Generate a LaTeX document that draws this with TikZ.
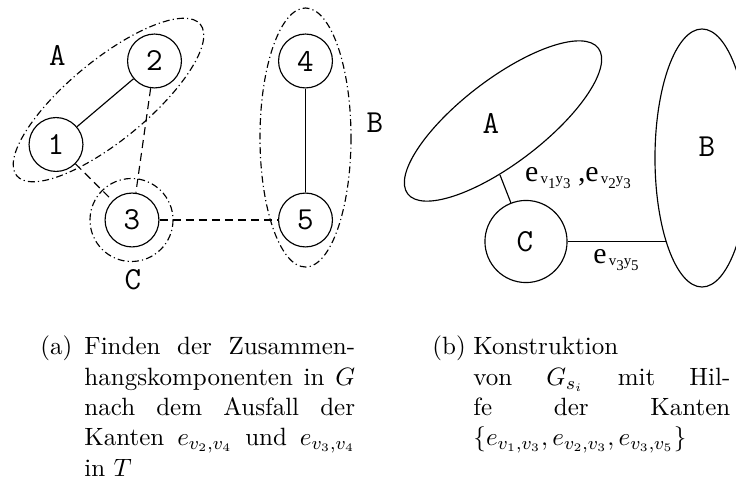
\documentclass[tikz,border=0pt]{standalone}
\usepackage{fontspec}
\newfontfamily\timesfnt{Liberation Serif}
\usetikzlibrary{shapes.geometric}
\newcommand\elab[2]{e\hspace{1pt}{\fontsize{6.5}{7}\selectfont\raisebox{-0.5pt}{v}\raisebox{-2.8pt}{#1}\raisebox{-0.5pt}{y}\raisebox{-2.8pt}{#2}}}
\begin{document}
\begin{tikzpicture}[x=0.436pt,y=-0.436pt,
  vert/.style={circle,draw,line width=0.5pt,minimum size=23.5pt,inner sep=0pt,font=\ttfamily\fontsize{14}{16}\selectfont},
  grp/.style={draw,line width=0.5pt,dash pattern=on 3pt off 1.4pt on 0.5pt off 1.4pt},
  dedge/.style={draw,line width=0.5pt,dash pattern=on 3.5pt off 2.2pt},
  sedge/.style={draw,line width=0.5pt},
  blob/.style={draw,line width=0.5pt,ellipse,inner sep=0pt},
  lbl/.style={inner sep=0pt,font=\ttfamily\fontsize{14}{16}\selectfont},
  elbl/.style={inner sep=0pt,anchor=base,font=\timesfnt\fontsize{13}{15}\selectfont},
  captxt/.style={inner sep=0pt,anchor=base west,font=\fontsize{10.9}{13.2}\selectfont}]
\useasboundingbox (0,0) rectangle (736,485);
\clip (0,0) rectangle (736,485);
% ---------- left diagram ----------
\node[vert] (n1) at (56,144.5) {1};
\node[vert] (n2) at (154.5,61) {2};
\node[vert] (n3) at (132,220) {3};
\node[vert] (n4) at (305.5,61) {4};
\node[vert] (n5) at (305.5,220) {5};
\draw[sedge] (n1) -- (n2);
\draw[sedge] (n4) -- (n5);
\draw[dedge] (n1) -- (n3);
\draw[dedge] (n2) -- (n3);
\draw[dedge] (n3) -- (n5);
\draw[grp,rotate around={39.5:(108.5,100)}] (108.5,100) ellipse [x radius=119, y radius=40];
\draw[grp] (131.5,220) circle [radius=41.5];
\draw[grp] (305.5,137.5) ellipse [x radius=45.5, y radius=129.5];
\node[lbl] (la) at (57.5,55) {A};
\node[lbl] (lb) at (375,123) {B};
\node[lbl] (lc) at (133,280) {C};
% ---------- right diagram ----------
\node[blob,rotate=37.4,minimum width=104.6pt,minimum height=36.6pt] (A) at (503,121) {};
\node[blob,minimum width=41pt,minimum height=112.5pt] (B) at (702,158) {};
\node[blob,circle,minimum size=35.8pt] (C) at (526,241.5) {};
\node[lbl] (ta) at (491,123) {A};
\node[lbl] (tb) at (707,147) {B};
\node[lbl] (tc) at (525,242) {C};
\coordinate (ae) at (500,175);
\coordinate (be) at (665.5,241.5);
\draw[sedge] (C) -- (ae);
\draw[sedge] (C) -- (be);
\node[elbl] (e1) at (578,182) {\elab{1}{3}\ ,\elab{2}{3}};
\node[elbl] (e2) at (616,264) {\elab{3}{5}};
% ---------- captions ----------
\node[captxt] (capa) at (40,355) {(a)};
\node[captxt] (capatext) at (84,355) {\parbox[t]{118pt}{Finden der Zusammen-\linebreak hangskomponenten in $G$\linebreak nach dem Ausfall der\linebreak Kanten $e_{v_2,v_4}$ und $e_{v_3,v_4}$\linebreak in $T$}};
\node[captxt] (capb) at (432,355) {(b)};
\node[captxt] (capbtext) at (473,355) {\parbox[t]{112pt}{Konstruktion\\ von $G_{s_i}$ mit Hil-\linebreak fe der Kanten\linebreak $\{e_{v_1,v_3},e_{v_2,v_3},e_{v_3,v_5}\}$}};
\end{tikzpicture}
\end{document}
